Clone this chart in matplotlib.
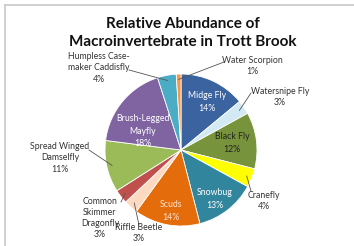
import numpy as np
import matplotlib
matplotlib.use("Agg")
import matplotlib.pyplot as plt
from matplotlib.lines import Line2D

# data (clockwise from 12 o'clock)
names = ["Midge Fly", "Watersnipe Fly", "Black Fly", "Cranefly", "Snowbug", "Scuds",
         "Riffle Beetle", "Common\nSkimmer\nDragonfly", "Spread Winged\nDamselfly",
         "Brush-Legged\nMayfly", "Humpless Case-\nmaker Caddisfly", "Water Scorpion"]
values = [14, 3, 12, 4, 13, 14, 3, 3, 11, 18, 4, 1]
colors = ["#3A63A0", "#D3E9F4", "#77933C", "#FFFF00", "#31859C", "#E46C0A",
          "#FCD9C0", "#C0504D", "#9BBB59", "#8064A2", "#4BACC6", "#F79646"]

W, H = 354, 246
cx, cy, R = 181, 150, 76

fig = plt.figure(figsize=(W / 100, H / 100), dpi=100)
fig.patch.set_facecolor("white")

def fx(x):
    return x / W

def fy(y):
    return 1 - y / H

ax = fig.add_axes([fx(cx - R), fy(cy + R), 2 * R / W, 2 * R / H])
ax.pie(values, colors=colors, startangle=90, counterclock=False, radius=1,
       wedgeprops=dict(edgecolor="white", linewidth=0.6))
ax.set_xlim(-1, 1)
ax.set_ylim(-1, 1)
ax.set_aspect("equal")
ax.axis("off")

# chart border (top and left visible)
fig.add_artist(Line2D([fx(5), fx(5)], [fy(5), 0], color="#C8C8C8", lw=1.2))
fig.add_artist(Line2D([fx(5), 1], [fy(5), fy(5)], color="#C8C8C8", lw=1.2))

fig.text(fx(183), fy(33), "Relative Abundance of\nMacroinvertebrate in Trott Brook",
         ha="center", va="center", fontsize=11, fontweight="bold",
         family="Lato", linespacing=1.3, color="#111111")

# angles of each wedge
cum = np.cumsum([0] + values[:-1])
mid = [90 - 3.6 * (c + v / 2) for c, v in zip(cum, values)]

def edge_pt(i, r=0.93):
    a = np.deg2rad(mid[i])
    return cx + r * R * np.cos(a), cy - r * R * np.sin(a)

lab_fs = 6.3
# inside labels: (index, x, y, color)
inside = [(0, 207, 102, "white"), (2, 232, 143, "#222222"), (4, 215, 199, "white"),
          (5, 171, 211, "#FBE5D6"), (9, 143, 131, "white")]
for i, x, y, c in inside:
    fig.text(fx(x), fy(y), f"{names[i]}\n{values[i]}%", ha="center", va="center",
             fontsize=lab_fs, color=c, family="Lato", linespacing=1.45)

# outside labels: (index, text x, text y, leader end x, leader end y)
outside = [(11, 252, 66, 224, 62), (1, 280, 97, 251, 93), (3, 264, 201, 251, 191),
           (8, 60, 158, 89, 150), (7, 100, 218, 121, 202), (6, 139, 233, 139, 225),
           (10, 99, 68, 129, 70)]
for i, x, y, lx, ly in outside:
    fig.text(fx(x), fy(y), f"{names[i]}\n{values[i]}%", ha="center", va="center",
             fontsize=lab_fs, color="#333333", family="Lato", linespacing=1.3)
    sx, sy = edge_pt(i)
    fig.add_artist(Line2D([fx(sx), fx(lx)], [fy(sy), fy(ly)], color="#555555", lw=0.6))

fig.savefig("out.png", dpi=100, facecolor="white")
